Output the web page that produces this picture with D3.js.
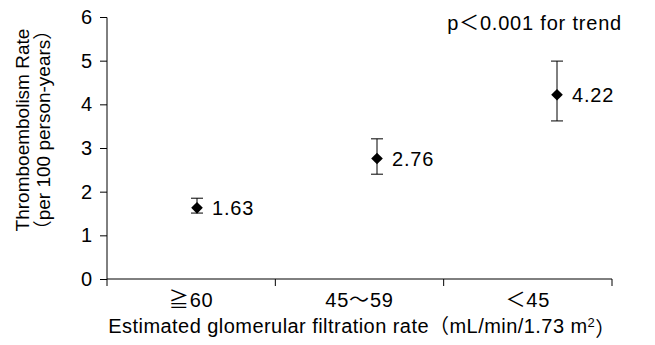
<!DOCTYPE html>
<html>
<head>
<meta charset="utf-8">
<script src="https://cdn.jsdelivr.net/npm/d3@7"></script>
<style>
  body { margin: 0; background: #fff; }
  text { font-family: "Liberation Sans", Arial, "Noto Sans CJK JP", sans-serif; fill: #000; letter-spacing: 0.8px; }
</style>
</head>
<body>
<div id="chart"></div>
<script>
var categories = ["≧60", "45～59", "＜45"];
var rates = [1.63, 2.76, 4.22];
var lower = [1.51, 2.40, 3.62];
var upper = [1.85, 3.21, 4.99];
var yTicks = [0, 1, 2, 3, 4, 5, 6];

var width = 655, height = 345;
var margin = { top: 17, right: 43, bottom: 66, left: 107 };
var plotW = width - margin.left - margin.right;
var plotH = height - margin.top - margin.bottom;
var fs = '20px';

var svg = d3.select('#chart').append('svg')
    .attr('width', width)
    .attr('height', height);

var g = svg.append('g')
    .attr('transform', "translate(" + margin.left + "," + margin.top + ")");

var xScale = d3.scaleBand().domain(categories).range([0, plotW]);
// the markers sit on their own scale, slightly right of the band centres
var xPt = d3.scaleLinear().domain([0.5, 3.5]).range([0, 540]);
var yScale = d3.scaleLinear().domain([0, 6]).range([plotH, 0]);

// y axis
var yAxis = g.append('g')
    .call(d3.axisLeft(yScale).tickValues(yTicks).tickSize(7).tickPadding(7).tickFormat(d3.format('d')));
yAxis.select('.domain').attr('d', "M0," + plotH + "V0.5H-7");
yAxis.selectAll('text').style('font-size', fs);

// x axis
var xAxis = g.append('g')
    .attr('transform', "translate(0," + plotH + ")")
    .call(d3.axisBottom(xScale).tickSize(0).tickPadding(14));
xAxis.select('.domain').attr('d', "M0,0H" + plotW);
xAxis.selectAll('text').style('font-size', fs);
xAxis.selectAll('.sep')
    .data([0].concat(categories.map(function (c) { return xScale(c) + xScale.bandwidth(); })))
    .enter().append('line')
    .attr('class', 'sep')
    .attr('x1', function (d) { return d; })
    .attr('x2', function (d) { return d; })
    .attr('y1', 0)
    .attr('y2', 7)
    .attr('stroke', '#000');
g.selectAll('.domain, .tick line').attr('stroke', '#000');

// error bars
var bars = g.selectAll('.err')
    .data(rates)
    .enter().append('g')
    .attr('class', 'err')
    .attr('transform', function (d, i) { return "translate(" + xPt(i + 1) + ",0)"; });

bars.append('line')
    .attr('y1', function (d, i) { return yScale(lower[i]); })
    .attr('y2', function (d, i) { return yScale(upper[i]); })
    .attr('stroke', '#000');
bars.append('line')
    .attr('x1', -6).attr('x2', 6)
    .attr('y1', function (d, i) { return yScale(upper[i]); })
    .attr('y2', function (d, i) { return yScale(upper[i]); })
    .attr('stroke', '#000');
bars.append('line')
    .attr('x1', -6).attr('x2', 6)
    .attr('y1', function (d, i) { return yScale(lower[i]); })
    .attr('y2', function (d, i) { return yScale(lower[i]); })
    .attr('stroke', '#000');

bars.append('path')
    .attr('d', d3.symbol().type(d3.symbolSquare).size(68))
    .attr('transform', function (d) { return "translate(0," + yScale(d) + ")rotate(45)"; })
    .attr('fill', '#000');

bars.append('text')
    .attr('x', 15)
    .attr('y', function (d) { return yScale(d); })
    .attr('dy', '0.36em')
    .style('font-size', fs)
    .text(function (d) { return d3.format('.2f')(d); });

// trend note
svg.append('text')
    .attr('x', 622)
    .attr('y', 30)
    .attr('text-anchor', 'end')
    .style('font-size', fs)
    .text("p＜0.001 for trend");

// axis titles
var xTitle = svg.append('text')
    .attr('x', 362)
    .attr('y', 333)
    .attr('text-anchor', 'middle')
    .style('font-size', fs)
    .style('letter-spacing', '0.45px');
xTitle.append('tspan').text("Estimated glomerular filtration rate（mL/min/1.73 m");
xTitle.append('tspan').attr('dy', '-0.45em').style('font-size', '13px').text("2");
xTitle.append('tspan').attr('dy', '0.45em').text("）");

var yTitle = svg.append('text')
    .attr('transform', "translate(29,130)rotate(-90)")
    .attr('text-anchor', 'middle')
    .style('font-size', '19px')
    .style('letter-spacing', '0px');
yTitle.append('tspan').attr('x', 0).attr('y', 0).text("Thromboembolism Rate");
yTitle.append('tspan').attr('x', 0).attr('y', 21).text("（per 100 person-years）");
</script>
</body>
</html>
